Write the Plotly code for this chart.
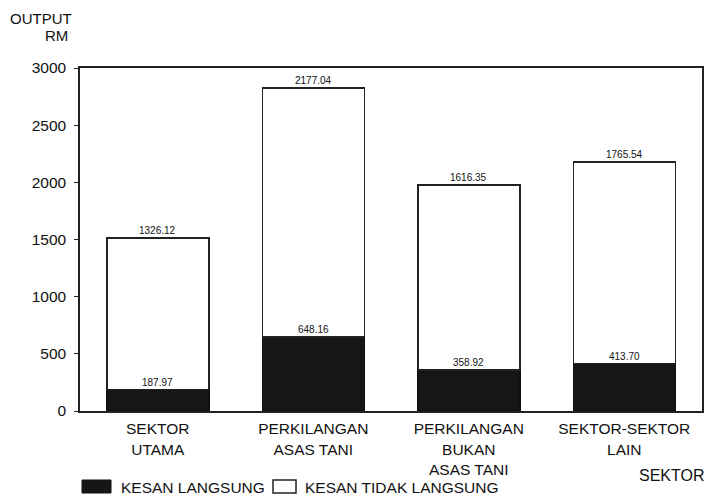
import plotly.graph_objects as go

categories = ["SEKTOR<br>UTAMA", "PERKILANGAN<br>ASAS TANI", "PERKILANGAN<br>BUKAN<br>ASAS TANI", "SEKTOR-SEKTOR<br>LAIN"]
kesan_langsung = [187.97, 648.16, 358.92, 413.70]
kesan_tidak_langsung = [1326.12, 2177.04, 1616.35, 1765.54]
langsung_labels = ["187.97", "648.16", "358.92", "413.70"]
tidak_langsung_labels = ["1326.12", "2177.04", "1616.35", "1765.54"]
series_names = ["KESAN LANGSUNG", "KESAN TIDAK LANGSUNG"]
y_ticks = [0, 500, 1000, 1500, 2000, 2500, 3000]

FONT = "Liberation Sans, Arial, sans-serif"
DARK = "#161616"
INK = "#111111"

# layout geometry (figure pixels)
L, R, T, B = 72, 21, 60, 94
W, H = 715, 497
PW, PH = W - L - R, H - T - B


def px(x):
    return (x - L) / PW


def py(y):
    return (H - B - y) / PH


fig = go.Figure()
fig.add_trace(go.Bar(
    x=categories, y=kesan_langsung, name=series_names[0],
    marker=dict(color=DARK, line=dict(color=INK, width=1.5)),
    width=0.656,
))
fig.add_trace(go.Bar(
    x=categories, y=kesan_tidak_langsung, name=series_names[1],
    marker=dict(color="white", line=dict(color="#222222", width=1.5)),
    width=0.656,
))

annotations = []
for c, d, i, dl, il in zip(categories, kesan_langsung, kesan_tidak_langsung, langsung_labels, tidak_langsung_labels):
    annotations.append(dict(x=c, y=d, text=dl, showarrow=False, yanchor="bottom", yshift=0,
                            font=dict(size=10, color=INK, family=FONT)))
    annotations.append(dict(x=c, y=d + i, text=il, showarrow=False, yanchor="bottom", yshift=0,
                            font=dict(size=10, color=INK, family=FONT)))

# y-axis title
annotations.append(dict(xref="paper", yref="paper", x=px(0), y=py(0), xanchor="left", yanchor="top",
                        text="OUTPUT", showarrow=False, font=dict(size=15, color=INK, family=FONT)))
annotations.append(dict(xref="paper", yref="paper", x=px(62), y=py(27), xanchor="right", yanchor="middle",
                        text="RM", showarrow=False, font=dict(size=15, color=INK, family=FONT)))
# x-axis title
annotations.append(dict(xref="paper", yref="paper", x=px(699), y=py(467), xanchor="right", yanchor="middle",
                        text="SEKTOR", showarrow=False, font=dict(size=16, color=INK, family=FONT)))

# legend (drawn)
shapes = [
    dict(type="rect", xref="paper", yref="paper", x0=px(74), x1=px(103), y0=py(485), y1=py(472),
         fillcolor=DARK, line=dict(color=INK, width=1)),
    dict(type="rect", xref="paper", yref="paper", x0=px(265), x1=px(288), y0=py(485), y1=py(472),
         fillcolor="white", line=dict(color="#222", width=1.5)),
]
annotations.append(dict(xref="paper", yref="paper", x=px(111), y=py(479), xanchor="left", yanchor="middle",
                        text=series_names[0], showarrow=False, font=dict(size=15.5, color=INK, family=FONT)))
annotations.append(dict(xref="paper", yref="paper", x=px(295), y=py(479), xanchor="left", yanchor="middle",
                        text=series_names[1], showarrow=False, font=dict(size=15.5, color=INK, family=FONT)))

fig.update_layout(
    width=W, height=H,
    barmode="stack",
    paper_bgcolor="white", plot_bgcolor="white",
    margin=dict(l=L, r=R, t=T, b=B, autoexpand=False),
    font=dict(family=FONT, color=INK, size=14),
    annotations=annotations,
    shapes=shapes,
    showlegend=False,
    xaxis=dict(showline=True, linecolor="#222", linewidth=1.5, mirror=True,
               ticks="", showgrid=False, range=[-0.5, 3.5], automargin=False,
               ticklabelstandoff=3,
               tickfont=dict(size=15.5, family=FONT, color=INK)),
    yaxis=dict(showline=True, linecolor="#222", linewidth=1.5, mirror=True,
               range=[0, 3000], tickvals=y_ticks, ticks="outside", ticklen=4,
               tickcolor="#222", showgrid=False, zeroline=False, automargin=False,
               ticklabelstandoff=5,
               tickfont=dict(size=15.5, family=FONT, color=INK)),
)

fig.write_html("out.html")
